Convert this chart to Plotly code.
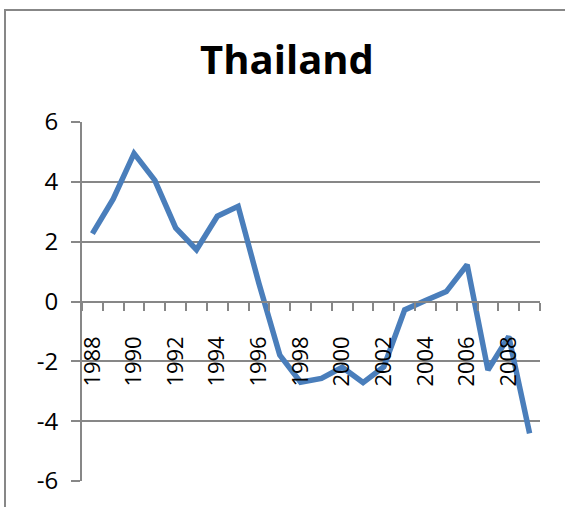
import plotly.graph_objects as go

# data
years = list(range(1988, 2010))
values = [2.27, 3.43, 4.95, 4.05, 2.46, 1.73, 2.85, 3.18, 0.6, -1.79, -2.7,
          -2.57, -2.2, -2.71, -2.18, -0.28, 0.03, 0.33, 1.23, -2.29, -1.17, -4.41]
tick_labels = [str(y) if y % 2 == 0 else '' for y in years]
y_ticks = [-6, -4, -2, 0, 2, 4, 6]
y_labels = [str(v) for v in y_ticks]  # plain hyphen like the original

grey = '#878787'

fig = go.Figure()

fig.add_trace(go.Scatter(x=years, y=values, mode='lines',
                         line=dict(color='#4a7ebb', width=5.5), showlegend=False))

# plot area: left 82px, right 540px, top 122px, bottom 481px
fig.update_layout(
    width=565, height=507,
    margin=dict(l=82, r=25, t=122, b=26),
    paper_bgcolor='white', plot_bgcolor='white',
    font=dict(family='Open Sans', size=24, color='black'),
    title=dict(text='<b>Thailand</b>', x=0.508, xanchor='center', y=0.882, yanchor='middle',
               font=dict(family='Open Sans', size=40, color='black')),
)

fig.update_yaxes(range=[-6, 6], tickvals=y_ticks, ticktext=y_labels,
                 showgrid=True, gridcolor=grey, gridwidth=2,
                 showline=True, linecolor=grey, linewidth=2, ticks='outside', ticklen=9,
                 tickcolor=grey, tickwidth=2, zeroline=False, ticklabelstandoff=8)

# x axis crosses at y = 0 (middle of plot area)
fig.update_xaxes(range=[1987.5, 2009.5], anchor='free', position=0.5,
                 tickvals=years, ticktext=tick_labels, tickangle=-90,
                 tickfont=dict(size=22),
                 ticks='outside', ticklen=8, tickcolor='rgba(0,0,0,0)',
                 showline=True, linecolor=grey, linewidth=2, showgrid=False, zeroline=False,
                 ticklabelstandoff=17,
                 minor=dict(tickvals=[y - 0.5 for y in years] + [2009.5], ticks='outside',
                            ticklen=8, tickcolor=grey, tickwidth=2, showgrid=False))

# outer chart frame (top and left edges are the only ones in view)
fig.add_shape(type='line', xref='paper', yref='paper',
              x0=-77 / 458, x1=1.2, y0=1 + 112 / 359, y1=1 + 112 / 359,
              line=dict(color=grey, width=2))
fig.add_shape(type='line', xref='paper', yref='paper',
              x0=-77 / 458, x1=-77 / 458, y0=-0.2, y1=1 + 113 / 359,
              line=dict(color=grey, width=2))

fig.write_html('out.html', config={'displayModeBar': False},
               post_script="document.body.style.margin='0';")
